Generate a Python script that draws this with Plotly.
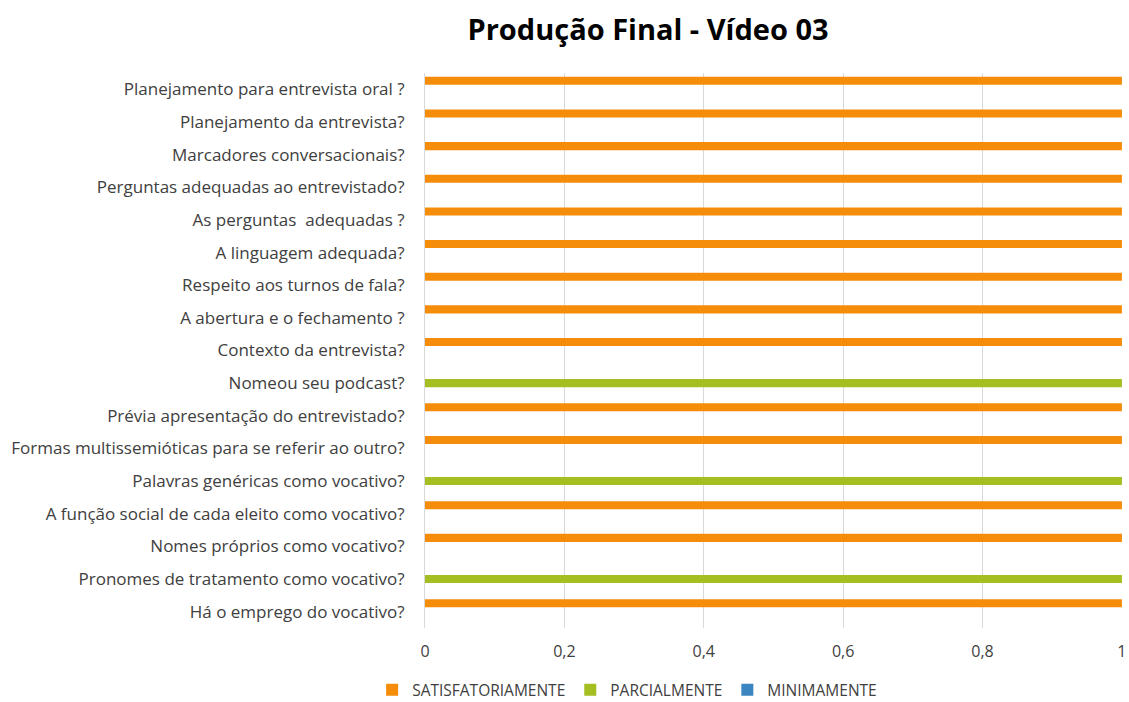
import plotly.graph_objects as go

categories = [
    "Há o emprego do vocativo?",
    "Pronomes de tratamento como vocativo?",
    "Nomes próprios como vocativo?",
    "A função social de cada eleito como vocativo?",
    "Palavras genéricas como vocativo?",
    "Formas multissemióticas para se referir ao outro?",
    "Prévia apresentação do entrevistado?",
    "Nomeou seu podcast?",
    "Contexto da entrevista?",
    "A abertura e o fechamento ?",
    "Respeito aos turnos de fala?",
    "A linguagem adequada?",
    "As perguntas  adequadas ?",
    "Perguntas adequadas ao entrevistado?",
    "Marcadores conversacionais?",
    "Planejamento da entrevista?",
    "Planejamento para entrevista oral ?",
]
satisfatoriamente = [1, 0, 1, 1, 0, 1, 1, 0, 1, 1, 1, 1, 1, 1, 1, 1, 1]
parcialmente      = [0, 1, 0, 0, 1, 0, 0, 1, 0, 0, 0, 0, 0, 0, 0, 0, 0]
minimamente       = [0, 0, 0, 0, 0, 0, 0, 0, 0, 0, 0, 0, 0, 0, 0, 0, 0]
x_ticks = [0, 0.2, 0.4, 0.6, 0.8, 1]
x_tick_labels = ["0", "0,2", "0,4", "0,6", "0,8", "1"]

font_family = "'Open Sans', sans-serif"
text_color = "#404040"

fig = go.Figure()
# plotly places grouped horizontal bars bottom-up in trace order;
# add minimamente first so satisfatoriamente sits on top of each group
fig.add_trace(go.Bar(y=categories, x=minimamente, orientation="h",
                     name="MINIMAMENTE", marker=dict(color="#3B86C0", line=dict(width=0)),
                     legendrank=3))
fig.add_trace(go.Bar(y=categories, x=parcialmente, orientation="h",
                     name="PARCIALMENTE", marker=dict(color="#A5BE22", line=dict(width=0)),
                     legendrank=2))
fig.add_trace(go.Bar(y=categories, x=satisfatoriamente, orientation="h",
                     name="SATISFATORIAMENTE", marker=dict(color="#F68D0A", line=dict(width=0)),
                     legendrank=1))

fig.update_layout(
    width=1129, height=702,
    paper_bgcolor="white", plot_bgcolor="white",
    margin=dict(l=425, r=7, t=73, b=74, autoexpand=False),
    barmode="group", bargap=0.22, bargroupgap=0.05,
    font=dict(family=font_family, size=16, color=text_color),
    title=dict(text="<b>Produção Final - Vídeo 03</b>",
               xref="container", x=0.574, xanchor="center",
               yref="container", y=1 - 30 / 702, yanchor="middle",
               font=dict(size=29, color="#000000", family="'Open Sans', sans-serif")),
    legend=dict(orientation="h", x=0.29, xanchor="center",
                y=-0.112, yanchor="middle",
                font=dict(size=15.5, color=text_color),
                itemwidth=30, tracegroupgap=0),
    showlegend=True,
)
fig.update_xaxes(range=[0, 1.0001], tickvals=x_ticks, ticktext=x_tick_labels,
                 showgrid=True, gridcolor="#D9D9D9", gridwidth=1,
                 zeroline=False, showline=False, ticks="", automargin=False,
                 ticklabelstandoff=12, fixedrange=True)
fig.update_yaxes(categoryorder="array", categoryarray=categories,
                 showgrid=False, showline=True, linecolor="#D9D9D9", linewidth=1,
                 ticks="", ticklabelstandoff=16, automargin=False, fixedrange=True,
                 tickfont=dict(size=17))

fig.write_html("out.html", config={"displayModeBar": False},
               post_script="document.body.style.margin='0';document.body.style.overflow='hidden';")
